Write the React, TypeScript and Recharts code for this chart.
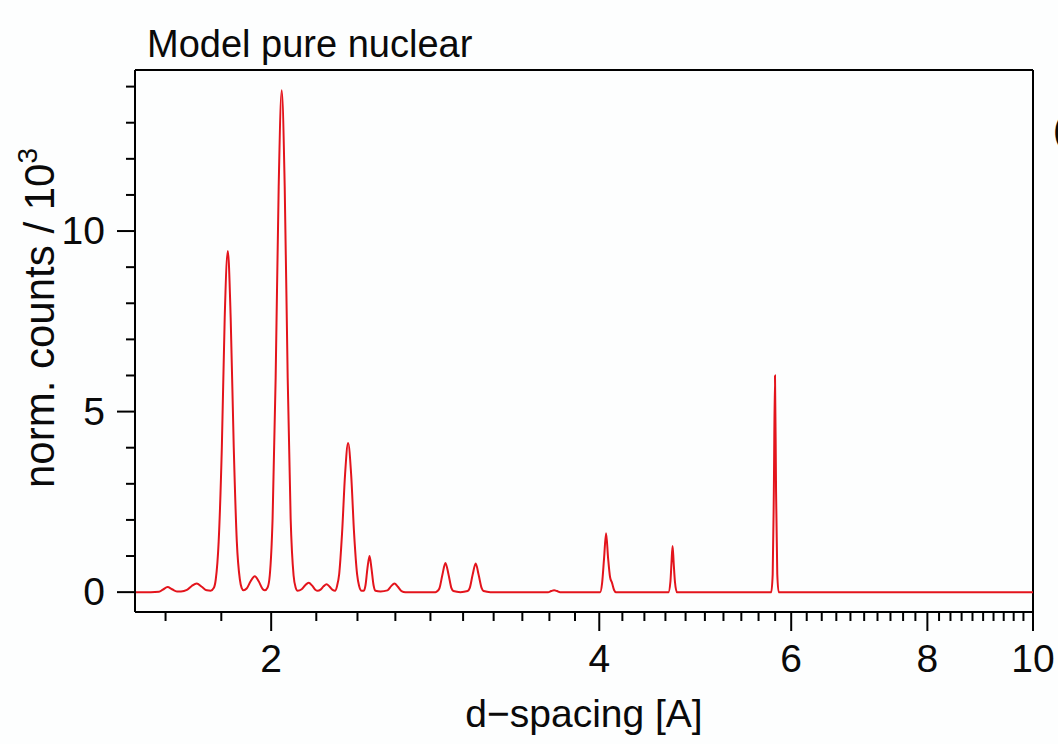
import { LineChart, Line, XAxis, YAxis, ReferenceLine } from 'recharts';

const FONT = '"Liberation Sans", Arial, Helvetica, sans-serif';

// d-spacing [A] and normalised counts / 10^3
const dSpacing = [
  1.5, 1.551, 1.578, 1.591, 1.607, 1.622, 1.639, 1.653, 1.674, 1.691, 1.709, 1.727, 1.746, 1.76,
  1.772, 1.779, 1.79, 1.802, 1.813, 1.825, 1.836, 1.848, 1.86, 1.872, 1.879, 1.887,
  1.899, 1.915, 1.932, 1.948, 1.965, 1.973,
  1.985, 1.994, 2.006, 2.019, 2.032, 2.045, 2.058, 2.071, 2.084, 2.097, 2.106, 2.115,
  2.133, 2.149, 2.165, 2.181, 2.197, 2.206, 2.22, 2.234, 2.248, 2.263, 2.277, 2.289,
  2.299, 2.309, 2.323, 2.338, 2.353, 2.368, 2.383, 2.398, 2.408, 2.421,
  2.433, 2.441, 2.451, 2.462, 2.472, 2.483, 2.493, 2.52,
  2.557, 2.576, 2.595, 2.614, 2.634, 2.656,
  2.83, 2.842, 2.854, 2.872, 2.89, 2.909, 2.927, 2.939, 2.983,
  3.029, 3.042, 3.061, 3.081, 3.1, 3.12, 3.133, 3.178,
  3.59, 3.613, 3.636, 3.659, 3.682,
  4.007, 4.024, 4.041, 4.058, 4.075, 4.092, 4.11, 4.127, 4.144,
  4.629, 4.649, 4.659, 4.67, 4.681, 4.693, 4.713,
  5.752, 5.77, 5.784, 5.798, 5.811, 5.826, 5.843,
  10,
];

const counts = [
  0, 0, 0.01, 0.07, 0.14, 0.08, 0.02, 0.02, 0.06, 0.17, 0.24, 0.15, 0.05, 0.04,
  0.12, 0.35, 1.4, 4.0, 7.6, 9.45, 7.6, 4.0, 1.4, 0.35, 0.12, 0.05,
  0.1, 0.3, 0.44, 0.3, 0.08, 0.05,
  0.13, 0.46, 2.04, 5.94, 11.23, 13.9, 11.23, 5.94, 2.04, 0.46, 0.13, 0.04,
  0.08, 0.19, 0.26, 0.18, 0.06, 0.04, 0.07, 0.16, 0.22, 0.15, 0.06, 0.04,
  0.18, 0.5, 1.62, 3.27, 4.13, 3.27, 1.62, 0.5, 0.18, 0.04,
  0.04, 0.19, 0.66, 1.0, 0.66, 0.19, 0.04, 0.02,
  0.05, 0.16, 0.24, 0.15, 0.03, 0,
  0, 0.03, 0.11, 0.49, 0.81, 0.49, 0.11, 0.03, 0,
  0.03, 0.11, 0.48, 0.79, 0.48, 0.11, 0.03, 0,
  0, 0.03, 0.05, 0.03, 0,
  0, 0.25, 0.95, 1.63, 0.95, 0.42, 0.25, 0.06, 0,
  0, 0.3, 0.8, 1.28, 0.8, 0.3, 0,
  0, 0.5, 2.8, 6.0, 2.8, 0.5, 0,
  0,
];

const xTicks = [
  1.6, 1.8, 2, 2.2, 2.4, 2.6, 2.8, 3, 3.2, 3.4, 3.6, 3.8, 4, 4.2, 4.4, 4.6, 4.8, 5, 5.2, 5.4,
  5.6, 5.8, 6, 6.2, 6.4, 6.6, 6.8, 7, 7.2, 7.4, 7.6, 7.8, 8, 8.2, 8.4, 8.6, 8.8, 9, 9.2, 9.4,
  9.6, 9.8, 10,
];
const xLabels = [2, 4, 6, 8, 10];

const yTicks = [0, 1, 2, 3, 4, 5, 6, 7, 8, 9, 10, 11, 12, 13, 14];
const yLabels = [0, 5, 10];

const xDomain = [1.5, 10];
const yDomain = [-0.55, 14.46];

const rows = dSpacing.map((d, i) => ({ d, counts: counts[i] }));

function XTick(props: any) {
  const { x, y, payload } = props;
  const major = xLabels.includes(payload.value);
  return (
    <g>
      <line x1={x} x2={x} y1={y} y2={y + (major ? 19 : 9)} stroke="#000" strokeWidth={2} />
      {major && (
        <text x={x} y={y + 60} textAnchor="middle" fontSize={39} fontFamily={FONT} fill="#0a0a0a">
          {payload.value}
        </text>
      )}
    </g>
  );
}

function YTick(props: any) {
  const { x, y, payload } = props;
  const major = yLabels.includes(payload.value);
  return (
    <g>
      <line x1={x} x2={x - (major ? 18 : 9)} y1={y} y2={y} stroke="#000" strokeWidth={2} />
      {major && (
        <text x={x - 30} y={y + 13} textAnchor="end" fontSize={39} fontFamily={FONT} fill="#0a0a0a">
          {payload.value}
        </text>
      )}
    </g>
  );
}

export default function App() {
  return (
    <div style={{ position: 'absolute', left: 0, top: 0, width: 1058, height: 744, background: '#fdfefe', overflow: 'hidden' }}>
      <LineChart width={1058} height={744} data={rows} margin={{ top: 70, right: 25, bottom: 72, left: 75 }}>
        <XAxis
          dataKey="d"
          type="number"
          scale="log"
          domain={xDomain}
          ticks={xTicks}
          interval={0}
          allowDataOverflow
          height={60}
          tickSize={0}
          tickMargin={0}
          tickLine={false}
          axisLine={{ stroke: '#000', strokeWidth: 2 }}
          tick={(p: any) => <XTick {...p} />}
        />
        <YAxis
          type="number"
          domain={yDomain}
          ticks={yTicks}
          interval={0}
          allowDataOverflow
          width={60}
          tickSize={0}
          tickMargin={0}
          tickLine={false}
          axisLine={{ stroke: '#000', strokeWidth: 2 }}
          tick={(p: any) => <YTick {...p} />}
        />
        <ReferenceLine y={yDomain[1]} stroke="#000" strokeWidth={2} />
        <ReferenceLine x={xDomain[1]} stroke="#000" strokeWidth={2} />
        <Line
          dataKey="counts"
          type="monotone"
          stroke="#e3141c"
          strokeWidth={2}
          dot={false}
          isAnimationActive={false}
        />
      </LineChart>
      <svg width={1058} height={744} style={{ position: 'absolute', left: 0, top: 0, pointerEvents: 'none' }}>
        <text x={147} y={57} fontSize={38} fontFamily={FONT} fill="#0a0a0a">Model pure nuclear</text>
        <text x={1053} y={142} fontSize={36} fontFamily={FONT} fill="#0a0a0a">(a)</text>
        <text x={584} y={727} textAnchor="middle" fontSize={39} fontFamily={FONT} fill="#0a0a0a">d−spacing [A]</text>
        <text transform="translate(54,318) rotate(-90)" textAnchor="middle" fontSize={42} fontFamily={FONT} fill="#0a0a0a">
          norm. counts / 10<tspan fontSize={28} dy={-17}>3</tspan>
        </text>
      </svg>
    </div>
  );
}
